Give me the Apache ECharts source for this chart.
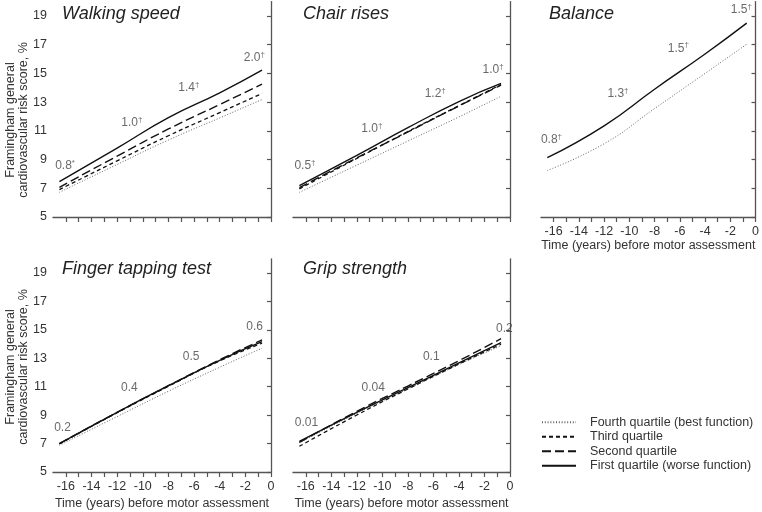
<!DOCTYPE html>
<html>
<head>
<meta charset="utf-8">
<script src="https://cdn.jsdelivr.net/npm/echarts@6/dist/echarts.min.js"></script>
<style>
html,body{margin:0;padding:0;background:#fff;}
#chart{width:762px;height:512px;}
</style>
</head>
<body>
<div id="chart"></div>
<script>
// ---- data ----
const years = [-16.5, -12, -8, -4, -0.7];
const tickYears = [-16,-15,-14,-13,-12,-11,-10,-9,-8,-7,-6,-5,-4,-3,-2,-1,0];
const labelYears = [-16,-14,-12,-10,-8,-6,-4,-2,0];
const yTicks = [5,7,9,11,13,15,17,19];

const quartileNames = ['Fourth quartile (best function)','Third quartile','Second quartile','First quartile (worse function)'];
const panelTitles = ['Walking speed','Chair rises','Balance','Finger tapping test','Grip strength'];

const walkQ1 = [7.47, 9.80, 11.92, 13.65, 15.23];
const walkQ2 = [7.07, 9.24, 11.13, 12.83, 14.25];
const walkQ3 = [6.91, 8.91, 10.66, 12.27, 13.60];
const walkQ4 = [6.72, 8.66, 10.36, 11.90, 13.18];

const chairQ1 = [7.19, 9.29, 11.22, 13.04, 14.30];
const chairQ2 = [7.05, 9.12, 10.92, 12.73, 14.18];
const chairQ3 = [6.96, 9.08, 10.95, 12.75, 14.23];
const chairQ4 = [6.72, 8.61, 10.29, 11.97, 13.41];

const balQ1 = [9.13, 11.35, 13.90, 16.35, 18.50];
const balQ4 = [8.24, 10.10, 12.55, 15.00, 17.03];

const fingerQ1 = [7.00, 9.20, 11.07, 12.86, 14.17];
const fingerQ2 = [7.00, 9.20, 11.07, 12.90, 14.29];
const fingerQ3 = [6.98, 9.17, 11.03, 12.82, 14.06];
const fingerQ4 = [6.88, 8.90, 10.68, 12.37, 13.71];

const gripQ1 = [7.16, 9.20, 10.94, 12.67, 14.10];
const gripQ2 = [7.09, 9.27, 11.05, 12.83, 14.38];
const gripQ3 = [6.81, 9.01, 10.84, 12.60, 13.99];
const gripQ4 = [7.05, 9.13, 10.84, 12.56, 13.88];

// annotation labels: [year, score, text]
const walkNotes = [[-16.06, 8.59, '0.8*'], [-10.85, 11.55, '1.0†'], [-6.4, 14.02, '1.4†'], [-1.3, 16.12, '2.0†']];
const chairNotes = [[-16.06, 8.59, '0.5†'], [-10.82, 11.15, '1.0†'], [-5.86, 13.6, '1.2†'], [-1.33, 15.23, '1.0†']];
const balNotes = [[-16.17, 10.38, '0.8†'], [-10.9, 13.6, '1.3†'], [-6.11, 16.75, '1.5†'], [-1.12, 19.42, '1.5†']];
const fingerNotes = [[-16.26, 8.09, '0.2'], [-11.05, 10.94, '0.4'], [-6.23, 13.11, '0.5'], [-1.28, 15.19, '0.6']];
const gripNotes = [[-15.95, 8.48, '0.01'], [-10.72, 10.94, '0.04'], [-6.17, 13.11, '0.1'], [-0.44, 15.1, '0.2']];

// ---- build ----
const FONT = '"Liberation Sans", Arial, Helvetica, sans-serif';
const AX = '#555';
const styles = {
  'First quartile (worse function)': {type: 'solid', width: 1.4, color: '#111'},
  'Second quartile': {type: [9, 4], width: 1.4, color: '#111'},
  'Third quartile': {type: [4, 3], width: 1.3, color: '#111'},
  'Fourth quartile (best function)': {type: [1, 1.8], width: 1, color: '#666'}
};

const grids = [
  {left: 53, top: 1.6, width: 218, height: 215.4},
  {left: 293, top: 1.6, width: 217, height: 215.4},
  {left: 541, top: 1.6, width: 216, height: 215.4},
  {left: 53, top: 258.8, width: 218, height: 213.2},
  {left: 293, top: 258.8, width: 217, height: 213.2}
];
const showXLabels = [false, false, true, true, true];
const showYLabels = [true, false, false, true, false];

const xAxes = grids.map((g, i) => ({
  gridIndex: i, type: 'value', min: -17, max: 0,
  name: showXLabels[i] ? 'Time (years) before motor assessment' : '',
  nameLocation: 'middle', nameGap: i === 2 ? 22 : 25,
  nameTextStyle: {fontFamily: FONT, fontSize: 12.5, color: '#333'},
  axisLine: {lineStyle: {color: AX, width: 1.3}},
  axisTick: {customValues: tickYears, length: 5, lineStyle: {color: AX, width: 1.2}},
  axisLabel: {show: showXLabels[i], customValues: labelYears, fontFamily: FONT, fontSize: 12.5, color: '#333', margin: 8},
  splitLine: {show: false}
}));
const yAxes = grids.map((g, i) => ({
  gridIndex: i, type: 'value', min: 5, max: 20,
  axisLine: {show: true, lineStyle: {color: AX, width: 1.3}},
  axisTick: {show: true, customValues: yTicks, length: 4, lineStyle: {color: AX, width: 1.2}},
  axisLabel: {show: showYLabels[i], customValues: yTicks, fontFamily: FONT, fontSize: 12.5, color: '#333', margin: 6},
  splitLine: {show: false}
}));

function lineSeries(name, vals, gi) {
  return {
    name: name, type: 'line', xAxisIndex: gi, yAxisIndex: gi,
    data: years.map((y, k) => [y, vals[k]]),
    smooth: 0.5, symbol: 'none', showSymbol: false,
    lineStyle: styles[name], itemStyle: {color: styles[name].color},
    silent: true, animation: false
  };
}
function noteSeries(notes, gi) {
  return {
    type: 'scatter', xAxisIndex: gi, yAxisIndex: gi, symbolSize: 0,
    data: notes, silent: true, animation: false,
    label: {
      show: true, position: 'inside',
      formatter: p => {
        const t = p.value[2];
        const last = t.slice(-1);
        if (last === '†' || last === '*') return '{a|' + t.slice(0, -1) + '}{s|' + last + '}';
        return '{a|' + t + '}';
      },
      rich: {
        a: {fontFamily: FONT, fontSize: 12, color: '#444', lineHeight: 14},
        s: {fontFamily: FONT, fontSize: 8, color: '#444', lineHeight: 8, verticalAlign: 'top'}
      }
    }
  };
}

const Q1 = quartileNames[3], Q2 = quartileNames[2], Q3 = quartileNames[1], Q4 = quartileNames[0];
const series = [
  lineSeries(Q4, walkQ4, 0), lineSeries(Q3, walkQ3, 0), lineSeries(Q2, walkQ2, 0), lineSeries(Q1, walkQ1, 0),
  lineSeries(Q4, chairQ4, 1), lineSeries(Q3, chairQ3, 1), lineSeries(Q2, chairQ2, 1), lineSeries(Q1, chairQ1, 1),
  lineSeries(Q4, balQ4, 2), lineSeries(Q1, balQ1, 2),
  lineSeries(Q4, fingerQ4, 3), lineSeries(Q3, fingerQ3, 3), lineSeries(Q2, fingerQ2, 3), lineSeries(Q1, fingerQ1, 3),
  lineSeries(Q4, gripQ4, 4), lineSeries(Q3, gripQ3, 4), lineSeries(Q2, gripQ2, 4), lineSeries(Q1, gripQ1, 4),
  noteSeries(walkNotes, 0), noteSeries(chairNotes, 1), noteSeries(balNotes, 2), noteSeries(fingerNotes, 3), noteSeries(gripNotes, 4)
];

const titlePos = [[62, 5], [303, 5], [549, 5], [62, 260], [303, 260]];
const titles = panelTitles.map((t, i) => ({
  text: t, left: titlePos[i][0], top: titlePos[i][1], padding: 0,
  textStyle: {fontFamily: FONT, fontSize: 18, fontStyle: 'italic', fontWeight: 'normal', color: '#222'}
}));

const yTitle = 'Framingham general\ncardiovascular risk score, %';
const graphics = [120, 367].map(cy => ({
  type: 'text', x: 17, y: cy, rotation: Math.PI / 2,
  style: {text: yTitle, fontFamily: FONT, fontSize: 12.5, fill: '#333', align: 'center', verticalAlign: 'middle', lineHeight: 13}
}));

const chart = echarts.init(document.getElementById('chart'), null, {renderer: 'canvas'});
chart.setOption({
  backgroundColor: '#fff',
  animation: false,
  title: titles,
  grid: grids,
  xAxis: xAxes,
  yAxis: yAxes,
  graphic: graphics,
  legend: {
    data: quartileNames, orient: 'vertical', left: 541, top: 415, padding: 0,
    itemWidth: 34, itemHeight: 10, itemGap: 0,
    itemStyle: {opacity: 0},
    textStyle: {fontFamily: FONT, fontSize: 12.5, color: '#333', lineHeight: 14.5, padding: [0, 0, 0, 9]},
    selectedMode: false
  },
  series: series
});
</script>
</body>
</html>
